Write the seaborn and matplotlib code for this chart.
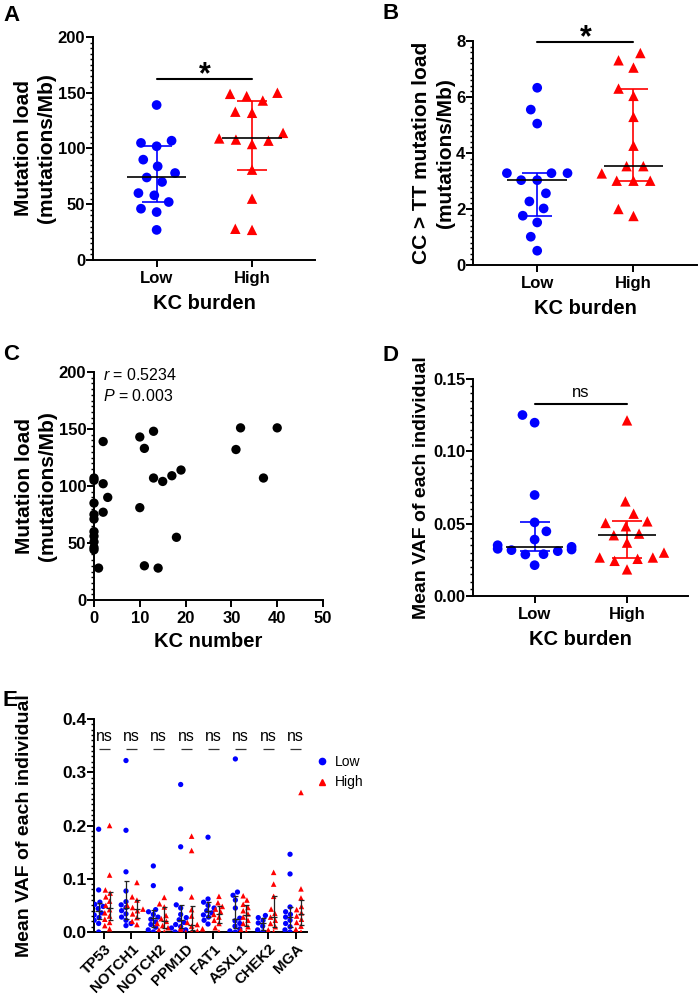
import numpy as np
import pandas as pd
import matplotlib
matplotlib.use("Agg")
import matplotlib.pyplot as plt
import seaborn as sns
from matplotlib.ticker import AutoMinorLocator, MultipleLocator, NullLocator, FormatStrFormatter
from matplotlib.lines import Line2D

# ---------------- data ----------------
groups = ["Low", "High"]

# Panel A: mutation load (mutations/Mb)
a_low = [139, 107, 102, 105, 84, 90, 70, 74, 78, 60, 58, 52, 46, 43, 27]
a_high = [149, 150, 143, 147, 132, 133, 114, 104, 109, 107, 108, 81, 55, 27, 28]

# Panel B: CC>TT mutation load
b_low = [6.33, 5.55, 5.05, 3.28, 3.28, 3.28, 3.03, 3.03, 2.56, 2.27, 2.02, 1.76, 1.52, 1.01, 0.51]
b_high = [7.57, 7.31, 7.05, 6.30, 6.04, 5.29, 4.26, 3.53, 3.53, 3.27, 3.01, 3.01, 3.01, 2.00, 1.75]

# Panel C: KC number vs mutation load
c_kc = [0, 0, 0, 0, 0, 0, 0, 0, 0, 0, 2, 2, 3, 2, 1,
        10, 13, 11, 13, 15, 17, 19, 10, 18, 11, 14, 32, 40, 31, 37]
c_load = [107, 105, 85, 75, 71, 60, 56, 51, 46, 44, 139, 102, 90, 77, 28,
          143, 148, 133, 107, 104, 109, 114, 81, 55, 30, 28, 151, 151, 132, 107]

# Panel D: mean VAF of each individual
d_low = [0.1251, 0.1198, 0.0698, 0.0509, 0.0447, 0.0390, 0.0351, 0.0340, 0.0326,
         0.0321, 0.0317, 0.0310, 0.0289, 0.0287, 0.0213]
d_high = [0.1214, 0.0654, 0.0569, 0.0516, 0.0505, 0.0482, 0.0431, 0.0420, 0.0369,
          0.0300, 0.0266, 0.0266, 0.0257, 0.0243, 0.0184]

# Panel E: mean VAF per gene
genes = ["TP53", "NOTCH1", "NOTCH2", "PPM1D", "FAT1", "ASXL1", "CHEK2", "MGA"]
tp53_low = [0.193, 0.079, 0.056, 0.052, 0.048, 0.044, 0.040, 0.036, 0.032, 0.027, 0.022, 0.016, 0.0]
tp53_high = [0.200, 0.107, 0.079, 0.073, 0.066, 0.058, 0.050, 0.042, 0.036, 0.030, 0.024, 0.018, 0.012, 0.006]
notch1_low = [0.322, 0.191, 0.113, 0.077, 0.057, 0.051, 0.046, 0.040, 0.034, 0.028, 0.022, 0.016, 0.012]
notch1_high = [0.093, 0.066, 0.060, 0.050, 0.046, 0.043, 0.040, 0.034, 0.027, 0.020, 0.014]
notch2_low = [0.124, 0.087, 0.042, 0.038, 0.033, 0.028, 0.024, 0.019, 0.014, 0.009, 0.004, 0.0]
notch2_high = [0.065, 0.053, 0.047, 0.031, 0.025, 0.020, 0.016, 0.012, 0.008, 0.004, 0.0]
ppm1d_low = [0.277, 0.160, 0.081, 0.051, 0.045, 0.033, 0.027, 0.023, 0.018, 0.014, 0.010, 0.0075, 0.004, 0.0, 0.0]
ppm1d_high = [0.180, 0.153, 0.066, 0.042, 0.030, 0.018, 0.014, 0.011, 0.008, 0.006, 0.004, 0.002, 0.0, 0.0]
fat1_low = [0.178, 0.062, 0.056, 0.050, 0.045, 0.040, 0.036, 0.032, 0.028, 0.022, 0.015]
fat1_high = [0.067, 0.055, 0.048, 0.043, 0.038, 0.033, 0.028, 0.022, 0.016, 0.008, 0.0]
asxl1_low = [0.325, 0.075, 0.069, 0.060, 0.045, 0.026, 0.021, 0.016, 0.011, 0.006, 0.002, 0.0]
asxl1_high = [0.068, 0.060, 0.052, 0.046, 0.040, 0.034, 0.028, 0.022, 0.016, 0.010, 0.004, 0.0]
chek2_low = [0.031, 0.027, 0.022, 0.017, 0.011, 0.004, 0.0]
chek2_high = [0.112, 0.090, 0.067, 0.043, 0.035, 0.028, 0.022, 0.016, 0.010, 0.004, 0.0]
mga_low = [0.146, 0.109, 0.047, 0.038, 0.033, 0.028, 0.022, 0.016, 0.010, 0.004, 0.0]
mga_high = [0.262, 0.081, 0.064, 0.048, 0.042, 0.036, 0.030, 0.024, 0.018, 0.011, 0.005, 0.0]

# ---------------- style ----------------
sns.set_theme(style="ticks")
plt.rcParams.update({
    "font.family": ["Liberation Sans", "DejaVu Sans"],
    "font.weight": "bold",
    "axes.labelweight": "bold",
    "axes.linewidth": 1.4,
    "axes.edgecolor": "black",
    "axes.labelcolor": "black",
    "text.color": "black",
    "xtick.color": "black",
    "ytick.color": "black",
    "xtick.major.width": 1.4,
    "ytick.major.width": 1.4,
    "ytick.minor.width": 1.0,
    "xtick.major.size": 5,
    "ytick.major.size": 5,
    "ytick.minor.size": 2.5,
    "ytick.major.pad": 0.5,
    "xtick.major.pad": 3,
    "xtick.labelsize": 12,
    "ytick.labelsize": 12,
    "mathtext.fontset": "custom",
    "mathtext.it": "Liberation Sans:italic:normal",
    "mathtext.rm": "Liberation Sans:normal",
})

BLUE = "#0000FF"
RED = "#FF0000"

W, H = 700, 996
fig = plt.figure(figsize=(W / 100, H / 100), dpi=100)


def add_ax(x0, y0, x1, y1):
    return fig.add_axes([x0 / W, 1 - y1 / H, (x1 - x0) / W, (y1 - y0) / H])


def quartiles(vals):
    return np.percentile(vals, [25, 50, 75], method="weibull")


def spread_swarm(ax, edge):
    for coll in ax.collections:
        coll.set_linewidth(edge)
        coll.set_edgecolor("none")


def star(ax, y):
    ax.annotate("*", xy=(0.5, y), xytext=(0, -3), textcoords="offset points",
                ha="center", va="baseline", fontsize=22, fontweight="bold",
                annotation_clip=False)


def column_panel(ax, low, high, edge=4.0):
    low_df = pd.DataFrame({"group": "Low", "value": low})
    high_df = pd.DataFrame({"group": "High", "value": high})
    sns.swarmplot(data=low_df, x="group", y="value", order=groups, color=BLUE,
                  marker="o", size=7, ax=ax, zorder=3, warn_thresh=1)
    sns.swarmplot(data=high_df, x="group", y="value", order=groups, color=RED,
                  marker="^", size=7.5, ax=ax, zorder=3, warn_thresh=1)
    spread_swarm(ax, edge)
    for i, (vals, col) in enumerate([(low, BLUE), (high, RED)]):
        q1, med, q3 = quartiles(vals)
        ax.errorbar(i, med, yerr=[[med - q1], [q3 - med]], fmt="none", ecolor=col,
                    elinewidth=1.2, capsize=11, capthick=1.2, zorder=4)
        ax.hlines(med, i - 0.31, i + 0.31, color="black", lw=1.2, zorder=5)
    ax.set_xlim(-0.667, 1.66)
    ax.xaxis.set_minor_locator(NullLocator())
    ax.yaxis.set_minor_locator(AutoMinorLocator(10))
    ax.set_xlabel("KC burden", fontsize=14.5, labelpad=6)
    sns.despine(ax=ax)


# ---------------- Panel A ----------------
axA = add_ax(93, 37, 315, 260)
column_panel(axA, a_low, a_high)
axA.set_ylim(0, 200)
axA.yaxis.set_major_locator(MultipleLocator(50))
axA.set_ylabel("Mutation load\n(mutations/Mb)", fontsize=15, labelpad=1, linespacing=1.3)
axA.plot([0, 1], [162, 162], color="black", lw=1.5)
star(axA, 162)

# ---------------- Panel B ----------------
axB = add_ax(473, 41, 697, 265)
column_panel(axB, b_low, b_high)
axB.set_ylim(0, 8)
axB.yaxis.set_major_locator(MultipleLocator(2))
axB.set_ylabel("CC > TT mutation load\n(mutations/Mb)", fontsize=15, labelpad=1, linespacing=1.3)
axB.plot([0, 1], [7.97, 7.97], color="black", lw=1.5, clip_on=False)
star(axB, 7.97)

# ---------------- Panel C ----------------
axC = add_ax(94, 372, 323, 600)
sns.scatterplot(x=c_kc, y=c_load, color="black", s=45, edgecolor="none", ax=axC,
                clip_on=False, zorder=3)
axC.set_xlim(0, 50)
axC.set_ylim(0, 200)
axC.xaxis.set_major_locator(MultipleLocator(10))
axC.yaxis.set_major_locator(MultipleLocator(50))
axC.yaxis.set_minor_locator(AutoMinorLocator(10))
axC.xaxis.set_minor_locator(NullLocator())
axC.set_xlabel("KC number", fontsize=14.5, labelpad=4)
axC.set_ylabel("Mutation load\n(mutations/Mb)", fontsize=15, labelpad=1, linespacing=1.3)
axC.text(0.04, 0.985, r"$r$ = 0.5234", transform=axC.transAxes, ha="left", va="center",
         fontsize=11.5, fontweight="normal")
axC.text(0.04, 0.895, r"$P$ = 0.003", transform=axC.transAxes, ha="left", va="center",
         fontsize=11.5, fontweight="normal")
sns.despine(ax=axC)

# ---------------- Panel D ----------------
axD = add_ax(473, 379, 688, 596)
column_panel(axD, d_low, d_high, edge=3.0)
axD.set_ylim(0, 0.15)
axD.yaxis.set_major_locator(MultipleLocator(0.05))
axD.yaxis.set_major_formatter(FormatStrFormatter("%.2f"))
axD.set_ylabel("Mean VAF of each individual", fontsize=14, labelpad=2)
axD.plot([0, 1], [0.1328, 0.1328], color="black", lw=1.5)
axD.text(0.5, 0.1355, "ns", ha="center", va="bottom", fontsize=12, fontweight="normal")

# ---------------- Panel E ----------------
axE = add_ax(94, 719, 307, 932)
low_lists = [tp53_low, notch1_low, notch2_low, ppm1d_low, fat1_low, asxl1_low, chek2_low, mga_low]
high_lists = [tp53_high, notch1_high, notch2_high, ppm1d_high, fat1_high, asxl1_high, chek2_high, mga_high]
rows = []
for g, lo, hi in zip(genes, low_lists, high_lists):
    rows += [(g, "Low", v) for v in lo]
    rows += [(g, "High", v) for v in hi]
e_df = pd.DataFrame(rows, columns=["gene", "group", "value"])
pal = {"Low": BLUE, "High": RED}
sns.swarmplot(data=e_df[e_df.group == "Low"], x="gene", y="value", hue="group",
              order=genes, hue_order=groups, palette=pal, dodge=True, marker="o",
              size=3.8, ax=axE, legend=False, zorder=3, warn_thresh=1)
sns.swarmplot(data=e_df[e_df.group == "High"], x="gene", y="value", hue="group",
              order=genes, hue_order=groups, palette=pal, dodge=True, marker="^",
              size=4.0, ax=axE, legend=False, zorder=3, warn_thresh=1)
spread_swarm(axE, 0.0)
for i, (lo, hi) in enumerate(zip(low_lists, high_lists)):
    for off, vals in [(-0.2, lo), (0.2, hi)]:
        q1, med, q3 = quartiles(vals)
        axE.errorbar(i + off, med, yerr=[[med - q1], [q3 - med]], fmt="none",
                     ecolor="#222222", elinewidth=0.9, capsize=1.8, capthick=0.9, zorder=4)
        axE.hlines(med, i + off - 0.12, i + off + 0.12, color="#222222", lw=0.9, zorder=4)
    axE.hlines(0.344, i - 0.2, i + 0.2, color="#333333", lw=0.9)
    axE.text(i, 0.353, "ns", ha="center", va="bottom", fontsize=11.5, fontweight="normal")
axE.set_xlim(-0.37, 7.42)
axE.set_ylim(0, 0.4)
axE.yaxis.set_major_locator(MultipleLocator(0.1))
axE.yaxis.set_minor_locator(AutoMinorLocator(10))
axE.yaxis.set_major_formatter(FormatStrFormatter("%.1f"))
axE.xaxis.set_minor_locator(NullLocator())
axE.set_xticks(range(len(genes)))
axE.set_xticklabels(genes, rotation=45, ha="right", rotation_mode="anchor", fontsize=10.8)
axE.tick_params(axis="y", labelsize=12.5)
axE.tick_params(axis="x", pad=2)
axE.set_xlabel("")
axE.set_ylabel("Mean VAF of each individual", fontsize=14, labelpad=21)
sns.despine(ax=axE)
handles = [Line2D([], [], marker="o", color=BLUE, linestyle="none", markersize=4.5),
           Line2D([], [], marker="^", color=RED, linestyle="none", markersize=4.5)]
axE.legend(handles, groups, loc="upper left", bbox_to_anchor=(1.04, 0.83), frameon=False,
           prop={"size": 10, "weight": "normal"}, handlelength=1.0, handletextpad=0.4,
           labelspacing=0.45, borderpad=0, borderaxespad=0)

# ---------------- panel letters ----------------
for letter, (px, py) in {"A": (3, 5), "B": (382, 3), "C": (3, 344), "D": (382, 345), "E": (2, 690)}.items():
    fig.text(px / W, 1 - py / H, letter, fontsize=16, fontweight="bold", ha="left", va="top")

fig.savefig("out.png", dpi=100)
